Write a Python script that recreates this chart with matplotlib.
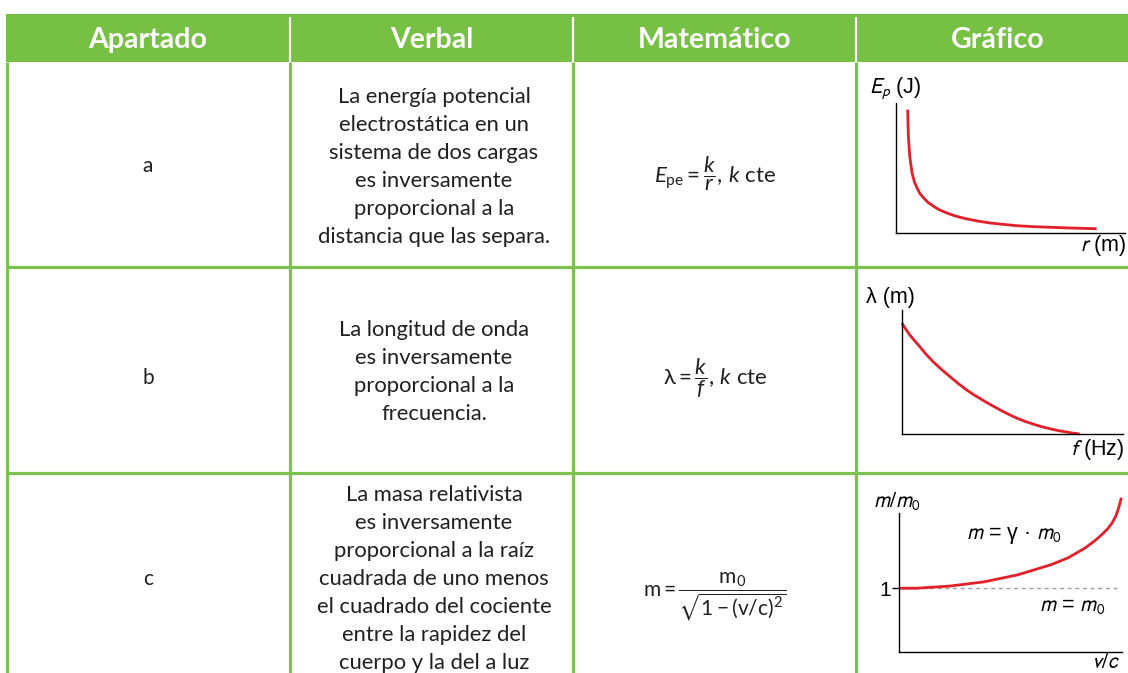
import matplotlib
matplotlib.use('Agg')
import matplotlib.pyplot as plt

W, H = 1128, 673

plt.rcParams['mathtext.fontset'] = 'custom'
plt.rcParams['mathtext.rm'] = 'Lato'
plt.rcParams['mathtext.it'] = 'Lato:italic'
plt.rcParams['mathtext.bf'] = 'Lato:bold'
plt.rcParams['mathtext.sf'] = 'Lato'
plt.rcParams['mathtext.fallback'] = 'stixsans'

GREEN = '#76c043'
LINE_GREEN = '#7bc24e'
RED = '#e3202a'
TEXT = '#231f20'

# ---------------- data ----------------
headers = ['Apartado', 'Verbal', 'Matemático', 'Gráfico']
row_labels = ['a', 'b', 'c']
verbal = [
    ['La energía potencial', 'electrostática en un', 'sistema de dos cargas',
     'es inversamente', 'proporcional a la', 'distancia que las separa.'],
    ['La longitud de onda', 'es inversamente', 'proporcional a la', 'frecuencia.'],
    ['La masa relativista', 'es inversamente', 'proporcional a la raíz',
     'cuadrada de uno menos', 'el cuadrado del cociente', 'entre la rapidez del',
     'cuerpo y la del a luz'],
]
formulas = [
    r'$E_{\mathrm{pe}} = \dfrac{k}{r},\, k\ \mathrm{cte}$',
    r'$\mathrm{\lambda} = \dfrac{k}{f},\, k\ \mathrm{cte}$',
    r'$\mathrm{m} = \dfrac{\mathrm{m}_{0}}{\sqrt{1-(\mathrm{v/c})^{2}}}$',
]

# graph a: potential energy vs distance
r_vals = [0.51, 0.54, 0.60, 0.70, 0.80, 0.92, 1.05, 1.21, 1.40, 1.64, 1.90, 2.22,
          2.60, 3.10, 3.60, 4.11, 4.70, 5.28, 6.00, 6.73, 7.70, 8.76]
ep_vals = [9.49, 7.44, 5.90, 4.62, 3.95, 3.46, 3.02, 2.69, 2.35, 2.05, 1.78, 1.54,
           1.30, 1.08, 0.91, 0.77, 0.66, 0.56, 0.49, 0.44, 0.38, 0.33]

# graph b: wavelength vs frequency
f_vals = [0.00, 0.17, 0.35, 0.57, 0.80, 1.08, 1.40, 1.78, 2.16, 2.53, 2.91, 3.29,
          3.67, 4.05, 4.42, 4.80, 5.18, 5.55, 5.93, 6.30, 6.68, 7.06, 7.44, 7.74, 8.04]
lam_vals = [8.93, 8.45, 7.99, 7.52, 7.05, 6.45, 5.84, 5.22, 4.64, 4.09, 3.57, 3.12,
            2.71, 2.32, 1.96, 1.61, 1.29, 1.03, 0.80, 0.60, 0.43, 0.28, 0.16, 0.07, 0.00]

# graph c: relativistic mass ratio vs v/c
vc_vals = [0.000, 0.079, 0.230, 0.381, 0.532, 0.683, 0.760, 0.834, 0.880, 0.909,
           0.935, 0.955, 0.972, 0.985, 0.997]
mm0_vals = [1.00, 1.00, 1.035, 1.10, 1.21, 1.37, 1.48, 1.63, 1.75, 1.84,
            1.93, 2.02, 2.13, 2.26, 2.42]

graph_labels = [
    (r'$E_p$ (J)', r'$r$ (m)'),
    ('λ (m)', r'$f$ (Hz)'),
    (r'$m/m_0$', r'$v/c$'),
]

# ---------------- layout ----------------
fig = plt.figure(figsize=(W / 100, H / 100), dpi=100)
base = fig.add_axes([0, 0, 1, 1])
base.set_xlim(0, W)
base.set_ylim(H, 0)
base.axis('off')

col_x = [7, 290, 573, 856]
col_c = [148, 432, 715, 998]
row_y = [62, 267, 473, 673]

# header
base.add_patch(plt.Rectangle((6, 14), W, 48, color=GREEN, lw=0, zorder=1))
for x in col_x[1:]:
    base.plot([x, x], [17, 62], color='white', lw=1.6, zorder=2, solid_capstyle='butt')
for x, h in zip(col_c, headers):
    base.text(x, 40, h, ha='center', va='center', color='white', fontsize=20.5,
              fontweight='bold', family='Lato', zorder=3)

# grid lines
for x in col_x:
    base.plot([x, x], [62, H], color=LINE_GREEN, lw=2.3, zorder=2, solid_capstyle='butt')
for y in row_y[1:3]:
    base.plot([6, W], [y, y], color=LINE_GREEN, lw=2.3, zorder=2, solid_capstyle='butt')

# row labels, verbal text, formulas
label_y = [166, 378, 579]
verbal_center = [167, 371.5, 579]
formula_y = [174, 378, 596]
formula_size = [16, 16, 15]
for i in range(3):
    base.text(col_c[0], label_y[i], row_labels[i], ha='center', va='center',
              fontsize=15, family='Lato', color=TEXT)
    lines = verbal[i]
    n = len(lines)
    for j, ln in enumerate(lines):
        y = verbal_center[i] + (j - (n - 1) / 2) * 28
        base.text(col_c[1] + 2, y, ln, ha='center', va='center', fontsize=15.8,
                  family='Lato', color=TEXT)
    base.text(col_c[2], formula_y[i], formulas[i], ha='center', va='center',
              fontsize=formula_size[i], color=TEXT)


def px_axes(left, top, right, bottom):
    ax = fig.add_axes([left / W, 1 - bottom / H, (right - left) / W, (bottom - top) / H])
    ax.patch.set_alpha(0)
    for s in ('top', 'right'):
        ax.spines[s].set_visible(False)
    for s in ('left', 'bottom'):
        ax.spines[s].set_linewidth(1.0)
        ax.spines[s].set_color('black')
    ax.set_xticks([])
    ax.set_yticks([])
    return ax


LBL = dict(fontsize=15.5, family='Liberation Sans', math_fontfamily='stixsans', color='black')

# graph a
axa = px_axes(896, 103, 1125, 233)
axa.set_xlim(0, 10)
axa.set_ylim(0, 10)
axa.plot(r_vals, ep_vals, color=RED, lw=2.0, clip_on=False, solid_capstyle='butt')
base.text(869, 89, graph_labels[0][0], ha='left', va='center', **LBL)
base.text(1126, 246, graph_labels[0][1], ha='right', va='center', **LBL)

# graph b
axb = px_axes(902, 310, 1123, 434)
axb.set_xlim(0, 10)
axb.set_ylim(0, 10)
axb.plot(f_vals, lam_vals, color=RED, lw=2.0, clip_on=False, solid_capstyle='butt')
base.text(866, 298, graph_labels[1][0], ha='left', va='center', **LBL)
base.text(1124, 449, graph_labels[1][1], ha='right', va='center', **LBL)

# graph c
axc = px_axes(899, 513, 1122, 652)
axc.set_xlim(0, 1.0)
axc.set_ylim(0, 2.18)
axc.plot([0, 0.99], [1, 1], color='#a0a0a0', lw=1.0, ls=(0, (3, 2.5)))
axc.plot(vc_vals, mm0_vals, color=RED, lw=2.0, clip_on=False, solid_capstyle='butt')
axc.set_yticks([1])
axc.set_yticklabels(['1'])
axc.tick_params(axis='y', length=5, width=1.0, pad=1, labelsize=15)
for t in axc.get_yticklabels():
    t.set_family('Liberation Sans')
base.text(873, 501, graph_labels[2][0], ha='left', va='center', **LBL)
base.text(1120, 662, graph_labels[2][1], ha='right', va='center', **LBL)
base.text(966, 535, r'$m$ = γ · $m_0$', ha='left', va='center', **LBL)
base.text(1039, 605, r'$m$ = $m_0$', ha='left', va='center', **LBL)

fig.savefig('out.png', dpi=100)
